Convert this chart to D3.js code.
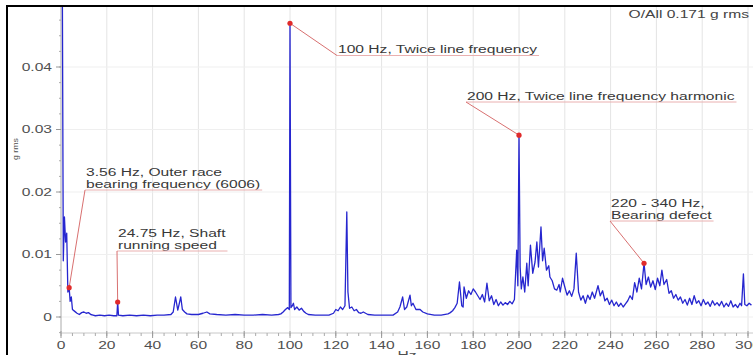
<!DOCTYPE html>
<html>
<head>
<meta charset="utf-8">
<script src="https://cdn.jsdelivr.net/npm/d3@7"></script>
<style>
  body { margin: 0; background: #fff; }
  svg { display: block; }
  text { font-family: "Liberation Sans", Arial, sans-serif; }
</style>
</head>
<body>
<svg id="chart" width="753" height="355"></svg>
<script>
// spectrum (Hz / g rms)
const freqHz = [
  0, 0.5, 1, 1.5, 2, 2.5, 3, 3.56, 4, 4.5, 5, 6, 7, 8, 9, 10, 11, 12, 13, 14, 15, 17, 19, 21, 23, 24.4, 24.75, 25.1,
  27, 30, 33, 36, 39, 42, 45, 48, 49, 50, 51, 52.3, 53, 54, 55, 57, 60, 62, 63.7, 65, 68, 72, 76, 80, 84, 88, 92, 95,
  96, 97, 98, 99, 99.7, 100, 100.4, 101, 101.5, 102, 103, 104, 105, 106, 107, 108, 111, 114, 117,
  119, 120, 121, 122, 123, 124, 124.8, 125.3, 126, 127, 128, 129, 130, 131, 132, 133, 134, 137, 141, 145,
  147, 148, 149.2, 150, 151, 152.4, 153, 153.7, 155, 156.8, 158, 160, 163, 166, 169,
  170, 171, 172, 173, 174, 175, 175.6, 176, 177, 178, 179, 180, 181, 182, 183, 184, 185, 186, 187, 188, 189,
  190, 191, 192, 193, 194, 195, 196, 197, 198, 199, 199.5, 200, 200.5, 201, 201.7, 202.5, 203.4, 204, 205, 206,
  207, 207.8, 208.5, 209.6, 210.3, 211, 212, 213, 213.5, 214.5, 215.5, 216.5, 217.5, 218, 219, 220, 221, 222,
  223, 224, 225, 226, 227, 228, 229, 230, 231, 232, 233, 234.5, 235.5, 236.5, 237.5, 238.5, 239.5, 240.5,
  241.5, 242.5, 243.5, 244.5, 245.5, 246.5, 247.5, 248.5, 249.5, 250.5, 251.5, 252.5, 253.5, 254.6, 255.5,
  256.5, 257.5, 258.5, 259.5, 260.5, 261.5, 262.4, 263.3, 264.5, 265.5, 266.5, 267.5, 268.5, 269.5, 270.5,
  271.5, 272.5, 273.5, 274.5, 275.5, 276.5, 277.5, 278.5, 279.5, 280.5, 281.5, 282.5, 283.5, 284.5, 285.5,
  286.5, 287.5, 288.5, 289.5, 290.5, 291.5, 292.5, 293.5, 294.5, 295.5, 296.5, 297.2, 298, 298.6, 299.5,
  300.5, 301.5
];
const ampG = [
  0.062, 0.062, 0.009, 0.016, 0.012, 0.0134, 0.004, 0.0047, 0.0025, 0.0032, 0.0012, 0.0009, 0.0006, 0.0004, 0.0007, 0.0008, 0.0006, 0.0007, 0.0004, 0.0003, 0.0002, 0.0003, 0.0002, 0.0003, 0.0002, 0.0002, 0.0024, 0.0003,
  0.0002, 0.0003, 0.0002, 0.0003, 0.0002, 0.0003, 0.0003, 0.0004, 0.0008, 0.0032, 0.0011, 0.0032, 0.0012, 0.0008, 0.0005, 0.0004, 0.0004, 0.0006, 0.0008, 0.0005, 0.0004, 0.0003, 0.0004, 0.0003, 0.0003, 0.0004, 0.0003, 0.0004,
  0.0005, 0.0008, 0.0012, 0.0015, 0.0012, 0.047, 0.0015, 0.0018, 0.0022, 0.0012, 0.0016, 0.0011, 0.0014, 0.0009, 0.0006, 0.0004, 0.0003, 0.0003, 0.0003,
  0.0006, 0.0012, 0.0010, 0.0016, 0.0012, 0.0018, 0.0168, 0.004, 0.0014, 0.0016, 0.0010, 0.0012, 0.0007, 0.0006, 0.0008, 0.0006, 0.0004, 0.0003, 0.0003, 0.0003,
  0.0008, 0.0016, 0.0032, 0.0012, 0.0016, 0.0035, 0.0018, 0.0022, 0.0012, 0.0012, 0.0008, 0.0005, 0.0003, 0.0003, 0.0005,
  0.0007, 0.0010, 0.0015, 0.0022, 0.0056, 0.0018, 0.0016, 0.0048, 0.0030, 0.0042, 0.0036, 0.0045, 0.0040, 0.0034, 0.0028, 0.0036, 0.0024, 0.0054, 0.0026, 0.0034, 0.0020,
  0.0028, 0.0018, 0.0024, 0.0019, 0.0023, 0.0020, 0.0025, 0.0021, 0.0028, 0.0107, 0.0050, 0.0291, 0.0080, 0.0045, 0.0064, 0.0040, 0.0086, 0.0050, 0.0115, 0.0070,
  0.0088, 0.0120, 0.0080, 0.0144, 0.0090, 0.0110, 0.0075, 0.0082, 0.0064, 0.0058, 0.0045, 0.0043, 0.0052, 0.0040, 0.0062, 0.0048, 0.0035, 0.0042,
  0.0033, 0.0045, 0.0102, 0.0040, 0.0027, 0.0034, 0.0022, 0.0035, 0.0028, 0.0040, 0.0030, 0.0050, 0.0034, 0.0042, 0.0026, 0.0030, 0.0020, 0.0027,
  0.0018, 0.0024, 0.0017, 0.0022, 0.0016, 0.0021, 0.0026, 0.0034, 0.0028, 0.0055, 0.0040, 0.0062, 0.0045, 0.0086, 0.0052,
  0.0064, 0.0048, 0.0058, 0.0044, 0.0062, 0.0050, 0.0075, 0.0052, 0.0060, 0.0038, 0.0042, 0.0030, 0.0036, 0.0027, 0.0032,
  0.0022, 0.0028, 0.0019, 0.0030, 0.0020, 0.0034, 0.0022, 0.0026, 0.0018, 0.0028, 0.0020, 0.0024, 0.0017, 0.0026, 0.0019,
  0.0023, 0.0018, 0.0025, 0.0016, 0.0022, 0.0017, 0.0026, 0.0016, 0.0020, 0.0015, 0.0022, 0.0018, 0.0069, 0.0020, 0.0018,
  0.0022, 0.0019
];

const xTicks = [0, 20, 40, 60, 80, 100, 120, 140, 160, 180, 200, 220, 240, 260, 280, 300];
const yTicks = [0, 0.01, 0.02, 0.03, 0.04];
const yTickLabels = ["0", "0.01", "0.02", "0.03", "0.04"];

// annotated points: frequency, amplitude, label lines
const noteFreq = [3.56, 24.75, 100, 200, 254.6];
const noteAmp = [0.0047, 0.0024, 0.047, 0.0291, 0.0086];
const noteText = [
  ["3.56 Hz, Outer race", "bearing frequency (6006)"],
  ["24.75 Hz, Shaft", "running speed"],
  ["100 Hz, Twice line frequency"],
  ["200 Hz, Twice line frequency harmonic"],
  ["220 - 340 Hz,", "Bearing defect"]
];
// where each label sits (pixels): left x, first baseline
const noteX = [86, 118, 338, 467, 611];
const noteY = [176, 237, 53, 99.5, 207];

const SX = 1.56; // the picture's text is stretched sideways

var svg = d3.select("#chart");
var x = d3.scaleLinear().domain([0, 300]).range([61, 748]);
var y = d3.scaleLinear().domain([0, 0.04]).range([317, 67]);
var plotTop = 7, plotBottom = 333;

function stext(g, px, py, str, size, color, anchor) {
  return g.append("text")
    .attr("transform", "translate(" + px + "," + py + ") scale(" + SX + ",1)")
    .attr("font-size", size)
    .attr("fill", color)
    .attr("text-anchor", anchor || "start")
    .text(str);
}

// grid
svg.append("g").selectAll("line").data(xTicks.slice(1)).enter().append("line")
  .attr("x1", d => x(d)).attr("x2", d => x(d))
  .attr("y1", plotTop).attr("y2", plotBottom)
  .attr("stroke", "#e4e4e4").attr("stroke-width", 1);
svg.append("g").selectAll("line").data(yTicks).enter().append("line")
  .attr("x1", x(0)).attr("x2", 753)
  .attr("y1", d => y(d)).attr("y2", d => y(d))
  .attr("stroke", "#efefef").attr("stroke-width", 1);

// axes
var yAxis = svg.append("g").attr("transform", "translate(" + x(0) + ",0)");
yAxis.append("line").attr("y1", plotTop).attr("y2", plotBottom).attr("stroke", "#aaa");
yAxis.selectAll(".minor").data(d3.range(-0.0025, 0.05, 0.0025)).enter().append("line")
  .attr("x1", -2).attr("x2", 0)
  .attr("y1", d => y(d)).attr("y2", d => y(d))
  .attr("stroke", "#aaa");
yAxis.selectAll(".major").data(yTicks).enter().append("line")
  .attr("x1", -5).attr("x2", 0)
  .attr("y1", d => y(d)).attr("y2", d => y(d))
  .attr("stroke", "#999");
yTicks.forEach((t, i) => stext(svg, 52, y(t) + 3.5, yTickLabels[i], 10, "#505050", "end"));

var xAxis = svg.append("g").attr("transform", "translate(0," + plotBottom + ")");
xAxis.append("line").attr("x1", x(0)).attr("x2", 753).attr("stroke", "#c8c8c8");
xAxis.selectAll(".minor").data(d3.range(0, 305, 5)).enter().append("line")
  .attr("x1", d => x(d)).attr("x2", d => x(d))
  .attr("y1", 0).attr("y2", 3)
  .attr("stroke", "#aaa");
xAxis.selectAll(".major").data(xTicks).enter().append("line")
  .attr("x1", d => x(d)).attr("x2", d => x(d))
  .attr("y1", -2).attr("y2", 5)
  .attr("stroke", "#999");
xTicks.forEach(t => stext(svg, x(t), 349, String(t), 10, "#505050", "middle"));

stext(svg, 407, 359, "Hz", 10, "#505050", "middle");
svg.append("text")
  .attr("transform", "translate(18,149) rotate(-90) scale(1.1,1)")
  .attr("font-size", 8).attr("fill", "#505050").attr("text-anchor", "middle")
  .text("g rms");

// spectrum
svg.append("clipPath").attr("id", "plotclip").append("rect")
  .attr("x", x(0)).attr("y", plotTop).attr("width", 753 - x(0)).attr("height", plotBottom - plotTop);
var line = d3.line().x(d => x(d[0])).y(d => y(d[1]));
svg.append("path")
  .datum(freqHz.map((f, i) => [f, ampG[i]]))
  .attr("clip-path", "url(#plotclip)")
  .attr("fill", "none")
  .attr("stroke", "#2626cf")
  .attr("stroke-width", 1.3)
  .attr("stroke-linejoin", "round")
  .attr("d", line);

// annotations
var notes = svg.append("g");
noteFreq.forEach((f, i) => {
  var lines = noteText[i];
  var lastY = noteY[i] + (lines.length - 1) * 11.5;
  var widths = [];
  lines.forEach((s, j) => {
    var t = stext(notes, noteX[i], noteY[i] + j * 11.5, s, 10, "#383838");
    widths.push(t.node().getComputedTextLength() * SX);
  });
  var uy = lastY + 2.5;
  notes.append("line")
    .attr("x1", noteX[i] - 1).attr("x2", noteX[i] + d3.max(widths) + 2)
    .attr("y1", uy).attr("y2", uy)
    .attr("stroke", "#eab0b0").attr("stroke-width", 1);
  notes.append("line")
    .attr("x1", noteX[i] - 1).attr("y1", uy)
    .attr("x2", x(f)).attr("y2", y(noteAmp[i]))
    .attr("stroke", "#d87070").attr("stroke-width", 1);
  notes.append("circle")
    .attr("cx", x(f)).attr("cy", y(noteAmp[i])).attr("r", 2.6)
    .attr("fill", "#e02a2a");
});

stext(svg, 749, 18, "O/All 0.171 g rms", 10, "#444", "end");

// black frame on the left and top
svg.append("line").attr("x1", 7).attr("x2", 753).attr("y1", 6).attr("y2", 6)
  .attr("stroke", "#000").attr("stroke-width", 2);
svg.append("line").attr("x1", 7).attr("x2", 7).attr("y1", 5).attr("y2", 355)
  .attr("stroke", "#000").attr("stroke-width", 2);
</script>
</body>
</html>
